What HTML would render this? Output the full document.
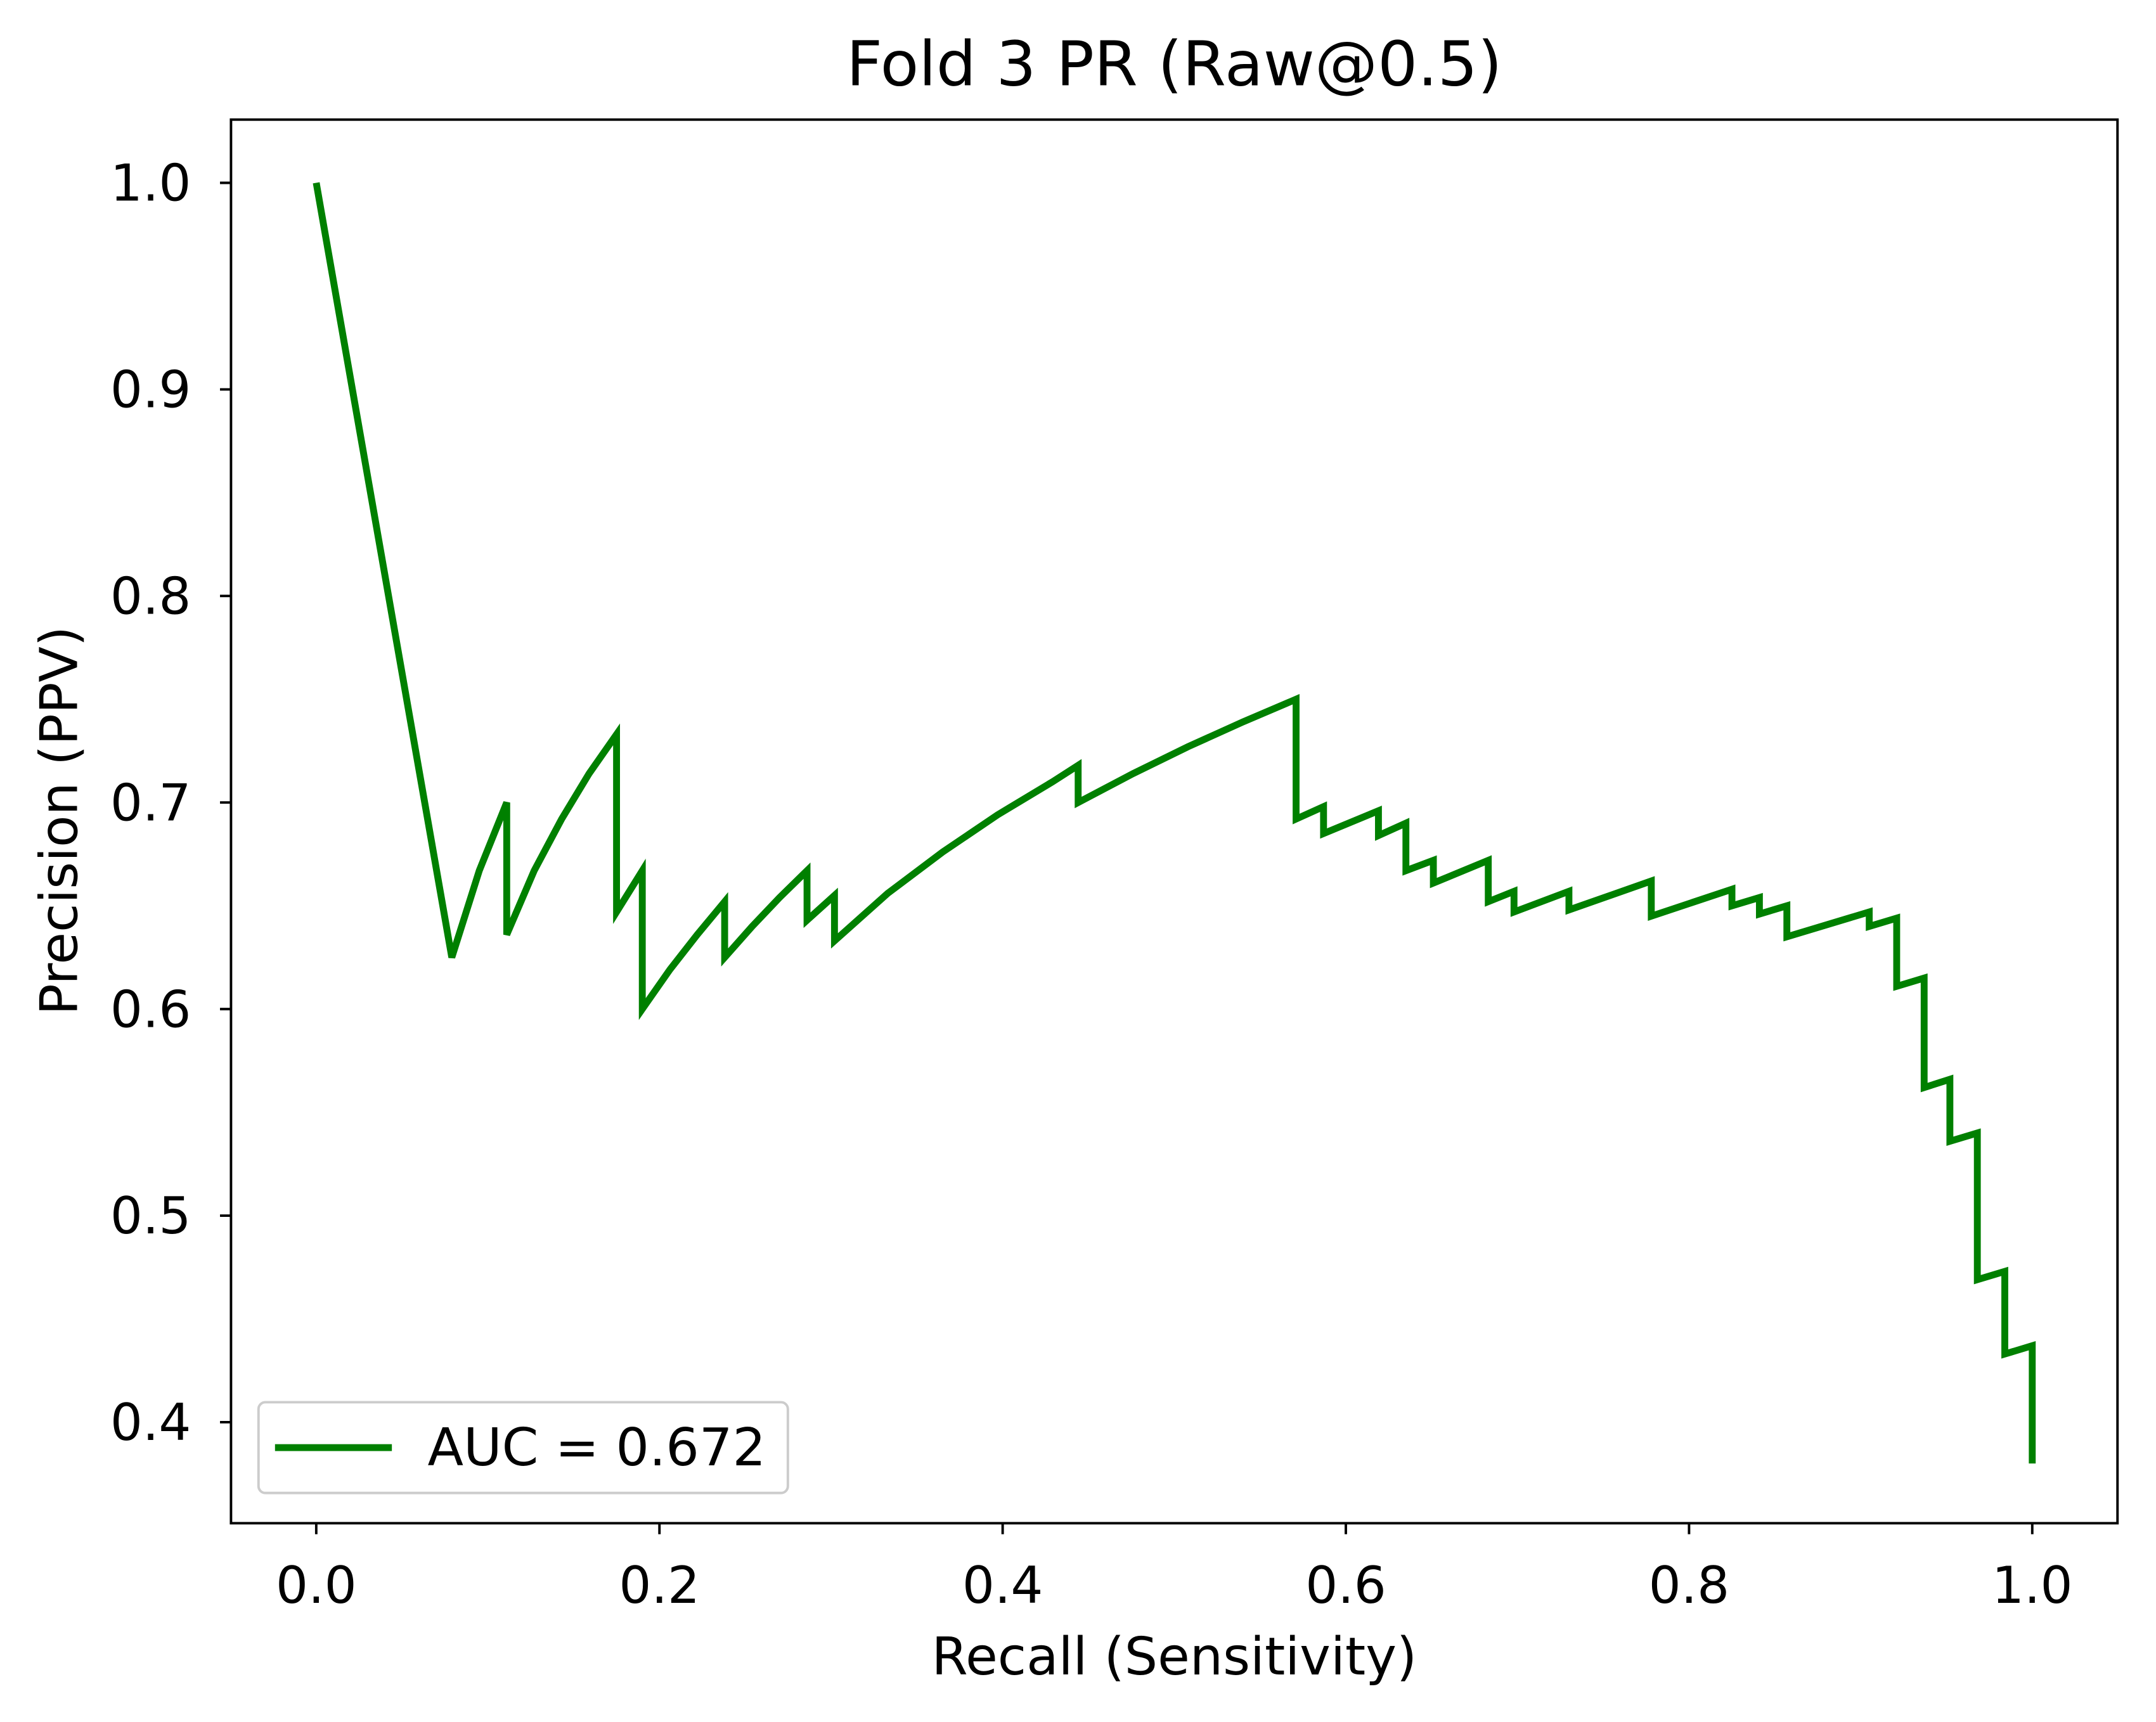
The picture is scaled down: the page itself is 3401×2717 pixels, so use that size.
<!DOCTYPE html>
<html><head><meta charset="utf-8"><style>
html,body{margin:0;padding:0;background:#fff;}
svg{display:block;}
text{font-family:"DejaVu Sans","Liberation Sans",sans-serif;fill:#000;}
</style></head><body>
<svg id="chart" width="3401" height="2717" viewBox="0 0 1568 1252.6" preserveAspectRatio="none" xmlns="http://www.w3.org/2000/svg">
<rect width="1568" height="1252.6" fill="#fff"/>
<text x="854" y="62" font-size="45" text-anchor="middle" textLength="477" lengthAdjust="spacingAndGlyphs">Fold 3 PR (Raw@0.5)</text>
<g id="xticks"></g>
<g id="yticks"></g>
<path id="curve" fill="none" stroke="#008000" stroke-width="5" stroke-linejoin="miter"/>
<rect x="168" y="87" width="1372" height="1021" fill="none" stroke="#000" stroke-width="1.8"/>
<text x="854" y="1218" font-size="38" text-anchor="middle" textLength="353" lengthAdjust="spacingAndGlyphs">Recall (Sensitivity)</text>
<text transform="translate(56,597) rotate(-90)" font-size="38" text-anchor="middle">Precision (PPV)</text>
<g>
<rect x="188" y="1020" width="385" height="66" rx="5" fill="#fff" stroke="#ccc" stroke-width="1.8"/>
<line x1="200" y1="1053" x2="285" y2="1053" stroke="#008000" stroke-width="5"/>
<text x="311" y="1066" font-size="38" textLength="246" lengthAdjust="spacingAndGlyphs">AUC = 0.672</text>
</g>
</svg>
<script>
const recall = [0,0.079,0.095,0.111,0.111,0.127,0.143,0.159,0.175,0.175,0.19,0.19,0.206,0.222,0.238,0.238,0.254,0.27,0.286,0.286,0.302,0.302,0.333,0.365,0.397,0.429,0.444,0.444,0.476,0.508,0.540,0.571,0.571,0.587,0.587,0.619,0.619,0.635,0.635,0.651,0.651,0.683,0.683,0.698,0.698,0.730,0.730,0.778,0.778,0.825,0.825,0.841,0.841,0.857,0.857,0.905,0.905,0.921,0.921,0.937,0.937,0.952,0.952,0.968,0.968,0.984,0.984,1.0,1.0];
const precision = [1.0,0.625,0.667,0.70,0.636,0.667,0.692,0.714,0.733,0.647,0.667,0.60,0.619,0.636,0.652,0.625,0.64,0.654,0.667,0.643,0.655,0.633,0.656,0.676,0.694,0.71,0.718,0.70,0.714,0.727,0.739,0.75,0.692,0.698,0.685,0.696,0.684,0.69,0.667,0.672,0.661,0.672,0.652,0.657,0.647,0.657,0.648,0.662,0.645,0.658,0.65,0.654,0.646,0.65,0.635,0.647,0.64,0.644,0.611,0.615,0.562,0.566,0.536,0.54,0.469,0.473,0.433,0.437,0.38];
const xTicks = [0.0,0.2,0.4,0.6,0.8,1.0];
const yTicks = [0.4,0.5,0.6,0.7,0.8,0.9,1.0];
const xs = v => 230 + v*1248;
const ys = v => 133 + (1.0 - v)*1502.5;
const NS = "http://www.w3.org/2000/svg";
const xg = document.getElementById('xticks');
xTicks.forEach(t => {
  const l = document.createElementNS(NS,'line');
  l.setAttribute('x1',xs(t)); l.setAttribute('x2',xs(t));
  l.setAttribute('y1',1108); l.setAttribute('y2',1116);
  l.setAttribute('stroke','#000'); l.setAttribute('stroke-width','1.8');
  
  
  xg.appendChild(l);
  const tx = document.createElementNS(NS,'text');
  tx.setAttribute('x',xs(t)); tx.setAttribute('y',1166);
  tx.setAttribute('font-size','37'); tx.setAttribute('text-anchor','middle');
  tx.textContent = t.toFixed(1);
  
  
  xg.appendChild(tx);
});
const yg = document.getElementById('yticks');
yTicks.forEach(t => {
  const l = document.createElementNS(NS,'line');
  l.setAttribute('x1',160); l.setAttribute('x2',168);
  l.setAttribute('y1',ys(t)); l.setAttribute('y2',ys(t));
  l.setAttribute('stroke','#000'); l.setAttribute('stroke-width','1.8');
  
  
  yg.appendChild(l);
  const tx = document.createElementNS(NS,'text');
  tx.setAttribute('x',139); tx.setAttribute('y',ys(t)+13);
  tx.setAttribute('font-size','37'); tx.setAttribute('text-anchor','end');
  tx.textContent = t.toFixed(1);
  
  
  yg.appendChild(tx);
});
document.getElementById('curve').setAttribute('d',
  recall.map((r,i) => (i?'L':'M') + xs(r).toFixed(2) + ' ' + ys(precision[i]).toFixed(2)).join(' '));
</script>
</body></html>
